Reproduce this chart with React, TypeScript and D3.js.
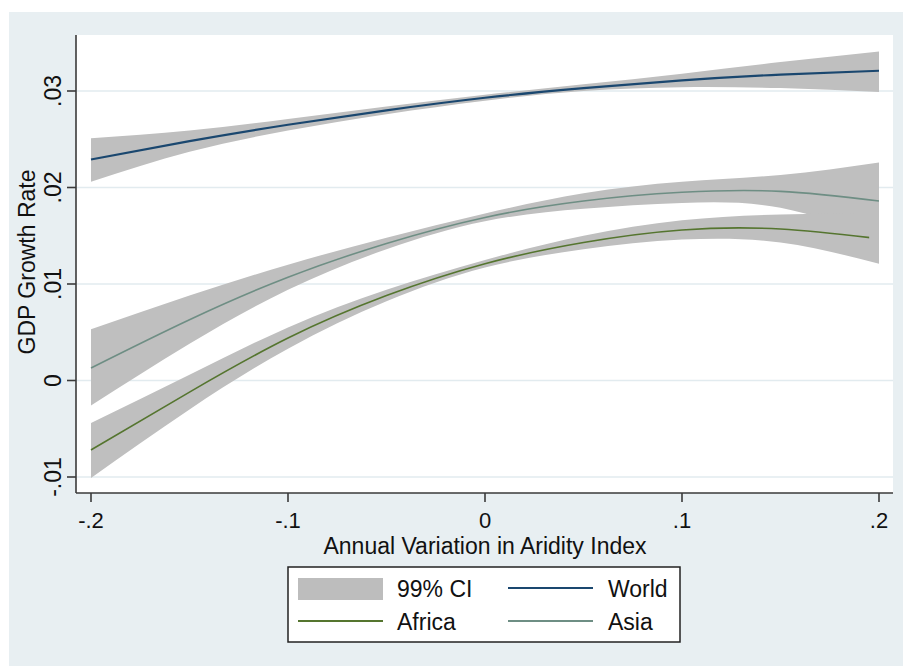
import React, { useEffect } from "react";
import * as d3 from "d3";

// grid of x values the fits are read at
const xs = [-0.2, -0.15, -0.1, -0.05, 0, 0.05, 0.1, 0.15, 0.2];

const worldFit = [0.0229, 0.0248, 0.0265, 0.028, 0.0293, 0.0303, 0.0311, 0.0317, 0.0321];
const worldLo = [0.0206, 0.0237, 0.0259, 0.0276, 0.029, 0.03, 0.0304, 0.0303, 0.0299];
const worldHi = [0.0251, 0.0259, 0.0271, 0.0284, 0.0296, 0.0307, 0.0318, 0.033, 0.0341];

const asiaFit = [0.0013, 0.0063, 0.0107, 0.0142, 0.0169, 0.0186, 0.0195, 0.0196, 0.0186];
const asiaLo = [-0.0026, 0.0038, 0.0094, 0.0136, 0.0165, 0.0178, 0.0184, 0.0179, 0.0146];
const asiaHi = [0.0053, 0.0088, 0.012, 0.0148, 0.0173, 0.0194, 0.0206, 0.0213, 0.0226];

const africaFit = [-0.0072, -0.0012, 0.0044, 0.0088, 0.0121, 0.0143, 0.0156, 0.0157, 0.0147];
const africaLo = [-0.0101, -0.003, 0.0033, 0.0082, 0.0117, 0.0136, 0.0146, 0.0143, 0.0121];
const africaHi = [-0.0044, 0.0006, 0.0055, 0.0094, 0.0125, 0.015, 0.0166, 0.0172, 0.0173];
const africaLineEnd = 0.195;

const xTicks = [-0.2, -0.1, 0, 0.1, 0.2];
const xTickLabels = ["-.2", "-.1", "0", ".1", ".2"];
const yTicks = [-0.01, 0, 0.01, 0.02, 0.03];
const yTickLabels = ["-.01", "0", ".01", ".02", ".03"];

const W = 903;
const H = 666;
const FONT = "'Liberation Sans', Arial, sans-serif";

const plotLeft = 76;
const plotRight = 893;
const plotTop = 35;
const plotBottom = 493;

const x = d3.scaleLinear().domain([-0.2, 0.2]).range([91, 879]);
const y = d3.scaleLinear().domain([-0.01, 0.03]).range([477, 91]);

const bandPath = (lo: number[], hi: number[]) =>
  d3
    .area<number>()
    .x((d) => x(d))
    .y0((_, i) => y(lo[i]))
    .y1((_, i) => y(hi[i]))
    .curve(d3.curveNatural)(xs) || "";

const linePath = (vals: number[]) =>
  d3
    .line<number>()
    .x((d) => x(d))
    .y((_, i) => y(vals[i]))
    .curve(d3.curveNatural)(xs) || "";

const App = () => {
  useEffect(() => {
    document.body.style.margin = "0";
  }, []);

  const bandFill = "#bfbfbf";
  const series = [
    { fit: worldFit, color: "#1a476f", width: 2.2 },
    { fit: asiaFit, color: "#6e8e84", width: 1.6 },
    { fit: africaFit, color: "#55752f", width: 1.6, clip: true },
  ];

  return (
    <svg width={W} height={H} style={{ display: "block", fontFamily: FONT }}>
      <defs>
        <clipPath id="africa-clip">
          <rect x={0} y={0} width={x(africaLineEnd)} height={H} />
        </clipPath>
      </defs>
      <rect x={0} y={0} width={W} height={H} fill="#ffffff" />
      <rect x={9} y={12} width={W - 9} height={H - 12} fill="#e8eff2" />
      <rect
        x={plotLeft}
        y={plotTop}
        width={plotRight - plotLeft}
        height={plotBottom - plotTop}
        fill="#ffffff"
      />

      {/* gridlines */}
      {yTicks.map((t) => (
        <line
          key={"g" + t}
          x1={plotLeft}
          x2={plotRight}
          y1={y(t)}
          y2={y(t)}
          stroke="#e2ebef"
          strokeWidth={1.5}
        />
      ))}

      {/* confidence bands */}
      <path d={bandPath(worldLo, worldHi)} fill={bandFill} />
      <path d={bandPath(asiaLo, asiaHi)} fill={bandFill} />
      <path d={bandPath(africaLo, africaHi)} fill={bandFill} />

      {/* fitted lines */}
      {series.map((s) => (
        <path
          key={s.color}
          d={linePath(s.fit)}
          fill="none"
          stroke={s.color}
          strokeWidth={s.width}
          clipPath={s.clip ? "url(#africa-clip)" : undefined}
        />
      ))}

      {/* axes */}
      <line x1={plotLeft} x2={plotLeft} y1={plotTop} y2={plotBottom} stroke="#3a3a3a" strokeWidth={1.6} />
      <line x1={plotLeft} x2={plotRight} y1={plotBottom} y2={plotBottom} stroke="#3a3a3a" strokeWidth={1.6} />

      {yTicks.map((t, i) => (
        <g key={"y" + t}>
          <line x1={plotLeft - 9} x2={plotLeft} y1={y(t)} y2={y(t)} stroke="#3a3a3a" strokeWidth={1.6} />
          <text
            transform={`translate(61,${y(t)}) rotate(-90)`}
            textAnchor="middle"
            fontSize={23}
            fill="#111"
          >
            {yTickLabels[i]}
          </text>
        </g>
      ))}

      {xTicks.map((t, i) => (
        <g key={"x" + t}>
          <line x1={x(t)} x2={x(t)} y1={plotBottom} y2={plotBottom + 9} stroke="#3a3a3a" strokeWidth={1.6} />
          <text x={x(t)} y={528} textAnchor="middle" fontSize={22} fill="#111">
            {xTickLabels[i]}
          </text>
        </g>
      ))}

      <text x={x(0)} y={554} textAnchor="middle" fontSize={23} fill="#111">
        Annual Variation in Aridity Index
      </text>
      <text transform="translate(35,262) rotate(-90)" textAnchor="middle" fontSize={23} fill="#111">
        GDP Growth Rate
      </text>

      {/* legend */}
      <rect x={288} y={567} width={392} height={75} fill="#ffffff" stroke="#222" strokeWidth={1.5} />
      <rect x={298} y={578} width={85} height={22} fill="#bdbdbd" />
      <text x={397} y={597} fontSize={23} fill="#111">99% CI</text>
      <line x1={508} x2={593} y1={588} y2={588} stroke="#1a476f" strokeWidth={2} />
      <text x={608} y={597} fontSize={23} fill="#111">World</text>
      <line x1={298} x2={383} y1={621} y2={621} stroke="#55752f" strokeWidth={2} />
      <text x={397} y={630} fontSize={23} fill="#111">Africa</text>
      <line x1={508} x2={593} y1={621} y2={621} stroke="#6e8e84" strokeWidth={2} />
      <text x={608} y={630} fontSize={23} fill="#111">Asia</text>
    </svg>
  );
};

export default App;
